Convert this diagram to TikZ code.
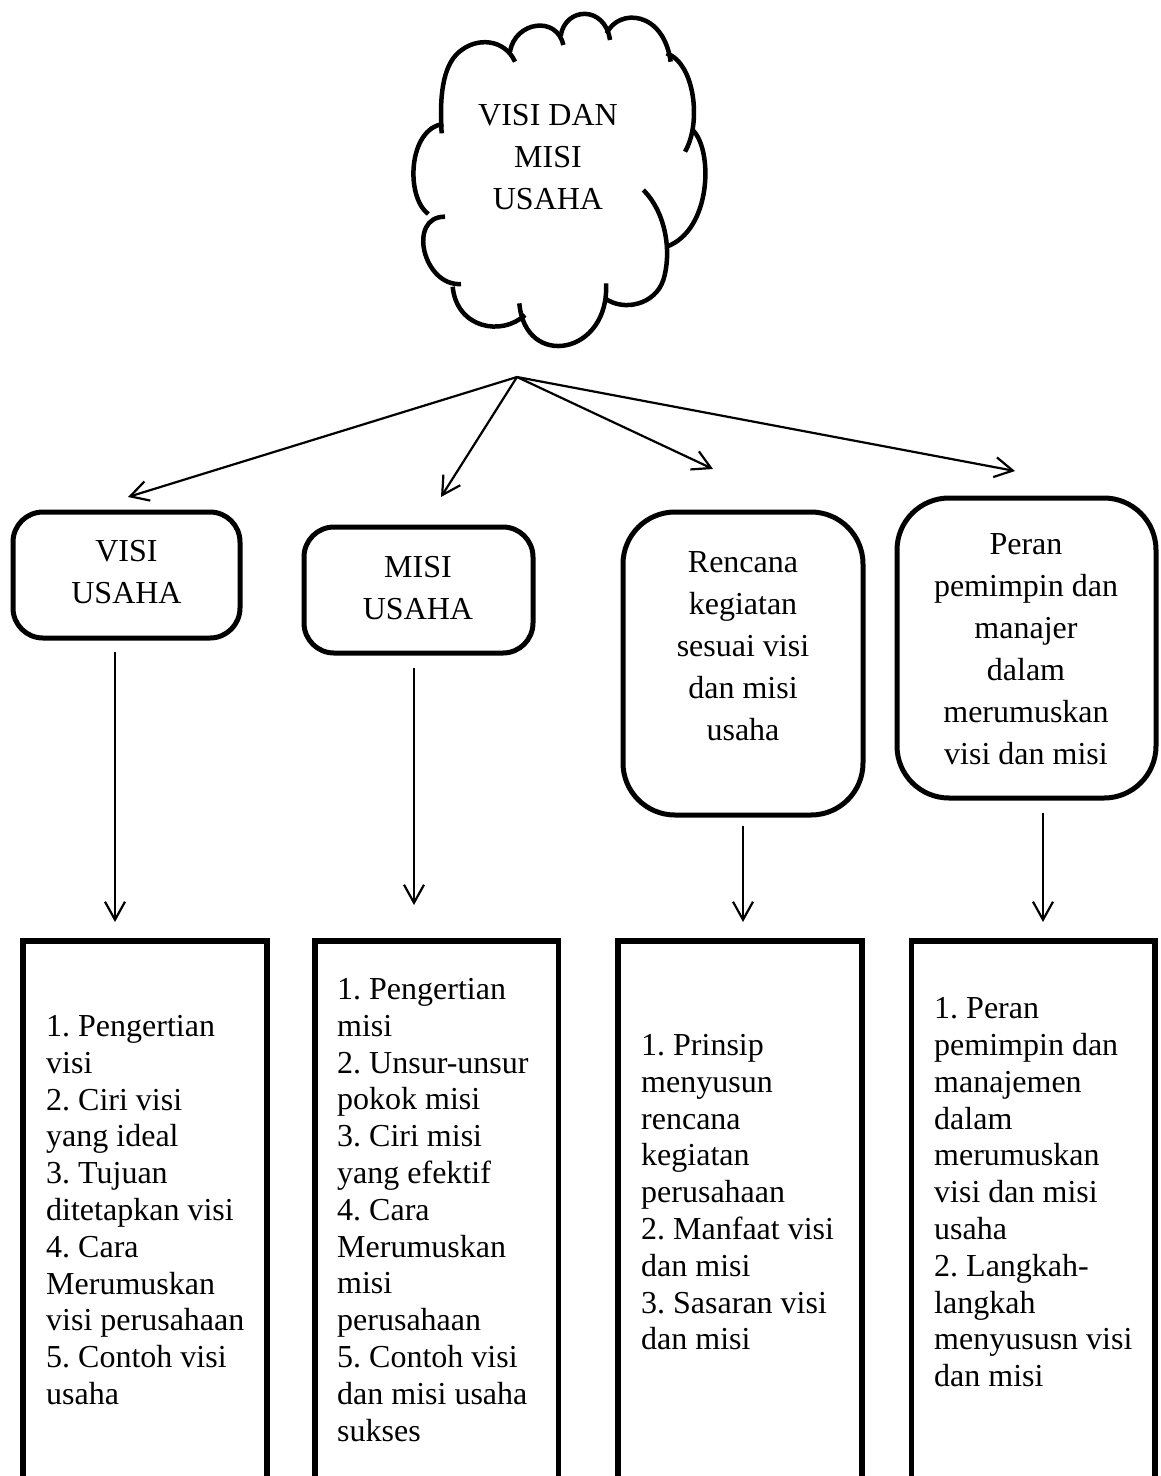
\documentclass[tikz,border=0pt]{standalone}
\usepackage{fontspec}
\setmainfont{Liberation Serif}
\usetikzlibrary{arrows.meta}
\frenchspacing
\begin{document}
\begin{tikzpicture}[x=1pt,y=-1pt,
  lbl/.style={font=\fontsize{32}{42}\selectfont, align=center, inner sep=0pt, anchor=north},
  lst/.style={font=\fontsize{32}{36.8}\selectfont, align=left, inner sep=0pt, anchor=north west},
  conn/.style={line width=2.2pt, -{Straight Barb[length=18pt,width=20pt]}},
  rboxs/.style={draw, line width=5pt, rounded corners=30pt, inner sep=0pt},
  rboxl/.style={draw, line width=5pt, rounded corners=52pt, inner sep=0pt},
  obox/.style={draw, line width=5.5pt, inner sep=0pt, anchor=north, minimum height=620pt},
  cloudline/.style={line width=4.5pt, line join=round}]
\useasboundingbox (0,0) rectangle (1160,1476);
\clip (0,0) rectangle (1160,1476);

% cloud outline
\begin{scope}[shift={(400,0)}, x=0.33333pt, y=-0.33333pt, cloudline]
  \draw (125,400) .. controls (118,290) and (128,200) .. (175,158) .. controls (230,108) and (315,118) .. (345,185);
  \draw (330,155) .. controls (345,65) and (470,45) .. (490,135);
  \draw (482,108) .. controls (495,20) and (615,15) .. (630,120);
  \draw (620,100) .. controls (655,25) and (790,30) .. (812,185);
  \draw (800,160) .. controls (885,190) and (905,370) .. (855,455);
  \draw (878,390) .. controls (940,450) and (935,690) .. (800,740);
  \draw (730,570) .. controls (800,640) and (815,760) .. (790,840) .. controls (765,915) and (670,935) .. (615,895);
  \draw (618,850) .. controls (630,1065) and (375,1110) .. (358,910);
  \draw (375,945) .. controls (305,1010) and (170,985) .. (158,860);
  \draw (183,852) .. controls (70,860) and (20,650) .. (135,650);
  \draw (85,642) .. controls (15,590) and (25,385) .. (130,372);
\end{scope}
\node[lbl] (cloud) at (548,103.8) {VISI DAN\\MISI\\USAHA};

% second level boxes
\node[rboxs, minimum width=227pt, minimum height=126pt] (visibox) at (126.5,575) {};
\node[lbl] (visitxt) at (126.5,539.8) {VISI\\USAHA};
\node[rboxs, minimum width=229pt, minimum height=126pt] (misibox) at (418.5,590) {};
\node[lbl] (misitxt) at (418,555.8) {MISI\\USAHA};
\node[rboxl, minimum width=240pt, minimum height=303pt] (renbox) at (743,663.5) {};
\node[lbl] (rentxt) at (743,551.8) {Rencana\\kegiatan\\sesuai visi\\dan misi\\usaha};
\node[rboxl, minimum width=259pt, minimum height=300pt] (perbox) at (1026.5,648) {};
\node[lbl] (pertxt) at (1026,533.8) {Peran\\pemimpin dan\\manajer\\dalam\\merumuskan\\visi dan misi};

% bottom boxes (open at the bottom edge)
\node[obox, minimum width=244pt] (b1) at (145,938) {};
\node[obox, minimum width=243.5pt] (b2) at (436.8,938) {};
\node[obox, minimum width=244pt] (b3) at (740,938) {};
\node[obox, minimum width=243.5pt] (b4) at (1033.3,938) {};

\node[lst] (t1) at (46,1015.1) {1. Pengertian\\visi\\2. Ciri visi\\yang ideal\\3. Tujuan\\ditetapkan visi\\4. Cara\\Merumuskan\\visi perusahaan\\5. Contoh visi\\usaha};
\node[lst] (t2) at (337,978.1) {1. Pengertian\\misi\\2. Unsur-unsur\\pokok misi\\3. Ciri misi\\yang efektif\\4. Cara\\Merumuskan\\misi\\perusahaan\\5. Contoh visi\\dan misi usaha\\sukses};
\node[lst] (t3) at (641,1034.1) {1. Prinsip\\menyusun\\rencana\\kegiatan\\perusahaan\\2. Manfaat visi\\dan misi\\3. Sasaran visi\\dan misi};
\node[lst] (t4) at (934,997.4) {1. Peran\\pemimpin dan\\manajemen\\dalam\\merumuskan\\visi dan misi\\usaha\\2. Langkah-\\langkah\\menyususn visi\\dan misi};

% connectors
\coordinate (hub) at (517,377);
\coordinate (h1) at (128,497);
\coordinate (h2) at (441,497);
\coordinate (h3) at (713,469);
\coordinate (h4) at (1015,471);
\draw[conn] (hub) -- (h1);
\draw[conn] (hub) -- (h2);
\draw[conn] (hub) -- (h3);
\draw[conn] (hub) -- (h4);

\coordinate (v1s) at (115,652);  \coordinate (v1e) at (115,922);
\coordinate (v2s) at (414,668);  \coordinate (v2e) at (414,905);
\coordinate (v3s) at (743,826);  \coordinate (v3e) at (743,922);
\coordinate (v4s) at (1043,813); \coordinate (v4e) at (1043,922);
\draw[conn] (v1s) -- (v1e);
\draw[conn] (v2s) -- (v2e);
\draw[conn] (v3s) -- (v3e);
\draw[conn] (v4s) -- (v4e);
\end{tikzpicture}
\end{document}
